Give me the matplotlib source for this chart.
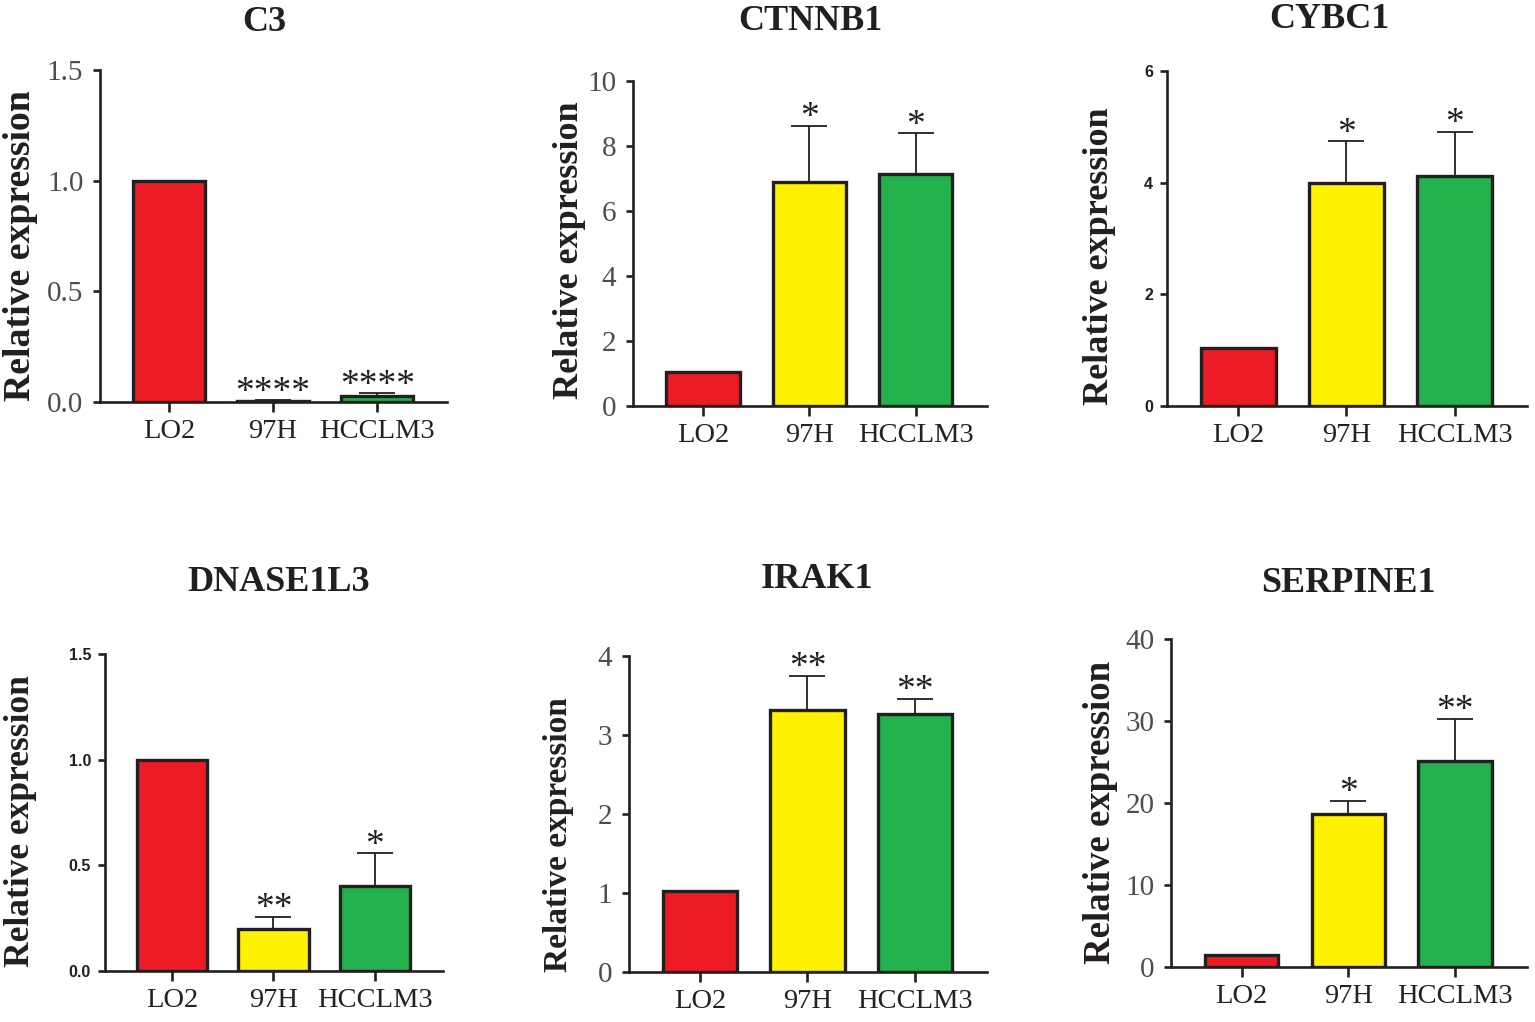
import matplotlib
matplotlib.use("Agg")
import matplotlib.pyplot as plt
import numpy as np

# =========================================
# DATA
# =========================================

groups = ["LO2", "97H", "HCCLM3"]
bar_colors = ["#ED1C24", "#FFF200", "#22B14C"]

genes = ["C3", "CTNNB1", "CYBC1", "DNASE1L3", "IRAK1", "SERPINE1"]

c3_mean = [1.0, 0.005, 0.028]
c3_err = [0.0, 0.003, 0.012]
c3_stars = ["", "****", "****"]

ctnnb1_mean = [1.06, 6.9, 7.14]
ctnnb1_err = [0.0, 1.72, 1.25]
ctnnb1_stars = ["", "*", "*"]

cybc1_mean = [1.03, 4.0, 4.12]
cybc1_err = [0.0, 0.74, 0.79]
cybc1_stars = ["", "*", "*"]

dnase1l3_mean = [1.0, 0.199, 0.403]
dnase1l3_err = [0.0, 0.058, 0.154]
dnase1l3_stars = ["", "**", "*"]

irak1_mean = [1.03, 3.32, 3.26]
irak1_err = [0.0, 0.43, 0.20]
irak1_stars = ["", "**", "**"]

serpine1_mean = [1.42, 18.7, 25.1]
serpine1_err = [0.0, 1.6, 5.2]
serpine1_stars = ["", "*", "**"]

c3_ticks = [0, 0.5, 1.0, 1.5]
ctnnb1_ticks = [0, 2, 4, 6, 8, 10]
cybc1_ticks = [0, 2, 4, 6]
dnase1l3_ticks = [0, 0.5, 1.0, 1.5]
irak1_ticks = [0, 1, 2, 3, 4]
serpine1_ticks = [0, 10, 20, 30, 40]

# =========================================
# PANEL LAYOUT (pixels: left, top, right, bottom)
# =========================================

W, H = 1535, 1022

panels = [
    dict(gene="C3", mean=c3_mean, err=c3_err, stars=c3_stars, ticks=c3_ticks,
         box=(100, 70, 447, 402), fmt="%.1f", sans=False,
         title_xy=(264, 22), label_xy=(21, 246), label_size=27.2),
    dict(gene="CTNNB1", mean=ctnnb1_mean, err=ctnnb1_err, stars=ctnnb1_stars, ticks=ctnnb1_ticks,
         box=(633, 81, 987, 406), fmt="%d", sans=False,
         title_xy=(810, 21), label_xy=(569, 250), label_size=26),
    dict(gene="CYBC1", mean=cybc1_mean, err=cybc1_err, stars=cybc1_stars, ticks=cybc1_ticks,
         box=(1167, 71, 1527, 406), fmt="%d", sans=True,
         title_xy=(1329, 20), label_xy=(1099, 256), label_size=26),
    dict(gene="DNASE1L3", mean=dnase1l3_mean, err=dnase1l3_err, stars=dnase1l3_stars, ticks=dnase1l3_ticks,
         box=(105, 654, 443, 971), fmt="%.1f", sans=True,
         title_xy=(279, 582), label_xy=(21, 821), label_size=25.5),
    dict(gene="IRAK1", mean=irak1_mean, err=irak1_err, stars=irak1_stars, ticks=irak1_ticks,
         box=(629, 656, 987, 972), fmt="%d", sans=False,
         title_xy=(817, 579), label_xy=(558, 835), label_size=24),
    dict(gene="SERPINE1", mean=serpine1_mean, err=serpine1_err, stars=serpine1_stars, ticks=serpine1_ticks,
         box=(1171, 639, 1527, 967), fmt="%d", sans=False,
         title_xy=(1348, 583), label_xy=(1101, 812), label_size=26.5),
]

serif = ["Liberation Serif", "DejaVu Serif"]
sans = ["Liberation Sans", "DejaVu Sans"]
ink = "#231f20"

plt.rcParams["font.family"] = serif

fig = plt.figure(figsize=(W / 100, H / 100), dpi=100)

x = np.arange(len(groups))

for p in panels:
    l, t, r, b = p["box"]
    ax = fig.add_axes([l / W, 1 - b / H, (r - l) / W, (b - t) / H])

    ax.bar(x, p["mean"], width=0.69, color=bar_colors,
           edgecolor=ink, linewidth=2.4, zorder=3)

    lower = [0] * len(groups)
    ax.errorbar(x, p["mean"], yerr=[lower, p["err"]], fmt="none",
                ecolor=ink, elinewidth=1.3, capsize=13, capthick=1.3, zorder=2)

    # significance stars
    for i, s in enumerate(p["stars"]):
        if s:
            ax.annotate(s, xy=(i, p["mean"][i] + p["err"][i]), xytext=(0, -1),
                        textcoords="offset points", ha="center", va="baseline",
                        fontsize=27, color=ink)

    ax.set_xlim(-0.66, 2.67)
    ax.set_ylim(0, p["ticks"][-1])
    ax.set_yticks(p["ticks"])
    ax.set_yticklabels([p["fmt"] % v for v in p["ticks"]])
    ax.set_xticks(x)
    ax.set_xticklabels(groups)

    for side in ["top", "right"]:
        ax.spines[side].set_visible(False)
    for side in ["left", "bottom"]:
        ax.spines[side].set_linewidth(1.9)
        ax.spines[side].set_color(ink)

    ax.tick_params(axis="x", length=7, width=1.9, color=ink, pad=5,
                   labelsize=20.5, labelcolor="#222222")
    if p["sans"]:
        ax.tick_params(axis="y", length=5, width=1.9, color=ink, pad=5,
                       labelsize=11.5, labelcolor=ink)
        for lab in ax.get_yticklabels():
            lab.set_family(sans)
            lab.set_fontweight("bold")
    else:
        ax.tick_params(axis="y", length=5, width=1.9, color=ink, pad=7,
                       labelsize=21, labelcolor="#4d4d4d")

    # title
    tx, ty = p["title_xy"]
    fig.text(tx / W, 1 - ty / H, p["gene"], ha="center", va="center",
             fontsize=26, fontweight="bold", color=ink)

    # y label
    lx, ly = p["label_xy"]
    fig.text(lx / W, 1 - ly / H, "Relative expression", rotation=90,
             ha="center", va="center", fontsize=p["label_size"],
             fontweight="bold", color=ink)

fig.savefig("out.png", dpi=100, facecolor="white")
